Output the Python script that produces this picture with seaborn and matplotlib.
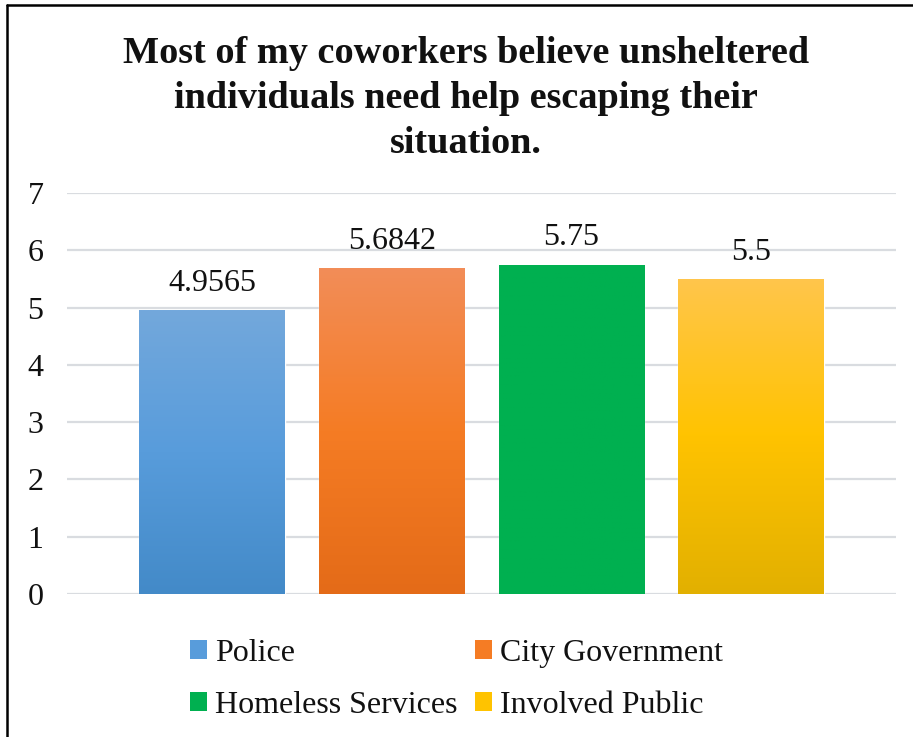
import matplotlib
matplotlib.use("Agg")
import matplotlib.pyplot as plt
from matplotlib.colors import LinearSegmentedColormap
from matplotlib.patches import Patch
from matplotlib.lines import Line2D
import numpy as np
import pandas as pd
import seaborn as sns

# Survey means by respondent group
groups = ["Police", "City Government", "Homeless Services", "Involved Public"]
means = [4.9565, 5.6842, 5.75, 5.5]
value_labels = ["4.9565", "5.6842", "5.75", "5.5"]
y_ticks = [0, 1, 2, 3, 4, 5, 6, 7]
title = ("Most of my coworkers believe unsheltered\n"
         "individuals need help escaping their\n"
         "situation.")

# Fill colours: (top, middle, bottom) of each bar's vertical gradient
gradients = [
    ("#73A8DC", "#589CDB", "#438AC8"),
    ("#F28D58", "#F57C24", "#E46B18"),
    ("#00B050", "#00B050", "#00B050"),
    ("#FFC64C", "#FFC300", "#E2B000"),
]
mid_colors = [g[1] for g in gradients]

sns.set_theme(style="white")
plt.rcParams["font.family"] = ["Liberation Serif", "DejaVu Serif"]

df = pd.DataFrame({"group": groups, "mean": means})

fig = plt.figure(figsize=(9.13, 7.37), dpi=100)
ax = fig.add_axes([0.0734, 0.194, 0.908, 0.544])

sns.barplot(data=df, x="group", y="mean", hue="group", palette=mid_colors,
            width=0.81, legend=False, ax=ax, saturation=1)

# Vertical gradient over each bar, clipped to the bar's outline
for patch, (top, mid, bot) in zip(ax.patches, gradients):
    cmap = LinearSegmentedColormap.from_list("g", [bot, mid, top])
    x0, y0 = patch.get_x(), patch.get_y()
    w, h = patch.get_width(), patch.get_height()
    grad = np.linspace(0, 1, 256).reshape(-1, 1)
    im = ax.imshow(grad, cmap=cmap, origin="lower", aspect="auto",
                   extent=(x0, x0 + w, y0, y0 + h), zorder=2)
    im.set_clip_path(patch)

for cont, lab in zip(ax.containers, value_labels):
    ax.bar_label(cont, labels=[lab], padding=9, fontsize=23, color="#111111",
                 zorder=4)

ax.set_xlim(-0.806, 3.806)
ax.set_ylim(0, 7)
ax.set_yticks(y_ticks)
ax.set_xticks([])
ax.set_xlabel("")
ax.set_ylabel("")
ax.tick_params(axis="y", labelsize=23, pad=17, length=0, colors="#111111")
for s in ax.spines.values():
    s.set_visible(False)
ax.yaxis.grid(True, color="#D9DCE0", lw=1.6)
ax.set_axisbelow(True)

fig.text(0.510, 0.867, title, ha="center", va="center", fontsize=27.5,
         fontweight="bold", linespacing=1.37, color="#111111")

# Legend filled row by row: two entries per row
order = [0, 2, 1, 3]
handles = [Patch(facecolor=mid_colors[i], edgecolor="none") for i in order]
labels = [groups[i] for i in order]
fig.legend(handles, labels, loc="center", bbox_to_anchor=(0.500, 0.078),
           ncol=2, frameon=False, fontsize=23, handlelength=0.53,
           handleheight=0.53, handletextpad=0.25, columnspacing=0.53,
           labelspacing=0.72, labelcolor="#111111")

# Frame edges along the top and left of the figure
fig.add_artist(Line2D([6.5 / 913, 6.5 / 913], [0, 1 - 5 / 737],
                      transform=fig.transFigure, color="black", lw=1.8))
fig.add_artist(Line2D([6.5 / 913, 1], [1 - 5 / 737, 1 - 5 / 737],
                      transform=fig.transFigure, color="black", lw=1.8))

fig.savefig("out.png", dpi=100, facecolor="white")
